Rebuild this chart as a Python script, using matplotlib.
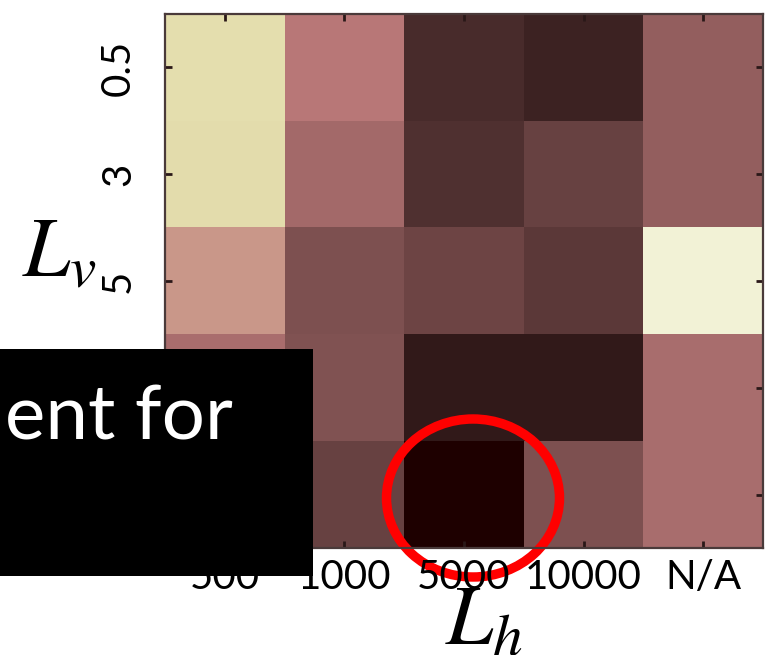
import matplotlib
matplotlib.use('Agg')
import matplotlib.pyplot as plt
from matplotlib.patches import Ellipse, Rectangle
import numpy as np

# categories of the grid
h_labels = ['500', '1000', '5000', '10000', 'N/A']
v_labels = ['0.5', '3', '5', '10', 'N/A']

row_05 = [0.70, 0.33, 0.045, 0.030, 0.21]
row_3 = [0.69, 0.26, 0.058, 0.100, 0.21]
row_5 = [0.435, 0.15, 0.110, 0.075, 0.85]
row_10 = [0.28, 0.16, 0.017, 0.017, 0.275]
row_na = [0.20, 0.10, 0.000, 0.150, 0.275]

values = np.array([row_05, row_3, row_5, row_10, row_na])

W, H = 765, 655
fig = plt.figure(figsize=(W / 100, H / 100), dpi=100)
ax = fig.add_axes([165 / W, 1 - 548 / H, (763 - 165) / W, (548 - 14) / H])

ax.imshow(values, cmap='pink', vmin=0, vmax=1, aspect='auto',
          interpolation='nearest')

ax.set_xticks(range(len(h_labels)))
ax.set_xticklabels(h_labels, fontfamily='Lato', fontsize=29)
ax.set_yticks(range(len(v_labels)))
ax.set_yticklabels(v_labels, fontfamily='Lato', fontsize=29, rotation=90,
                   va='center')
ax.tick_params(direction='in', top=True, right=True, length=5, width=2,
               color='#2a1818')
ax.tick_params(axis='x', pad=8)
ax.tick_params(axis='y', pad=20)
for s in ax.spines.values():
    s.set_color('#4a3a3a')
    s.set_linewidth(1.6)

# axis labels
fig.text(22 / W, 1 - 276 / H, r'$L_v$', fontsize=61, math_fontfamily='stix',
         ha='left', va='baseline')
fig.text(445 / W, 1 - 645 / H, r'$L_h$', fontsize=61, math_fontfamily='stix',
         ha='left', va='baseline')

# red circle around the darkest cell
circ = Ellipse((473 / W, 1 - 498 / H), 173 / W, 158 / H, transform=fig.transFigure,
               fill=False, edgecolor='#ff0000', linewidth=6.8, clip_on=False,
               zorder=1)
ax.add_patch(circ)

# black caption box
box = Rectangle((0, 1 - 576 / H), 313 / W, 227 / H, transform=fig.transFigure,
                facecolor='black', edgecolor='none', zorder=10)
fig.patches.append(box)
fig.text(5 / W, 1 - 439 / H, 'ent for', color='white', fontfamily='Lato',
         fontsize=55, ha='left', va='baseline', zorder=11)

fig.savefig('out.png', dpi=100)
